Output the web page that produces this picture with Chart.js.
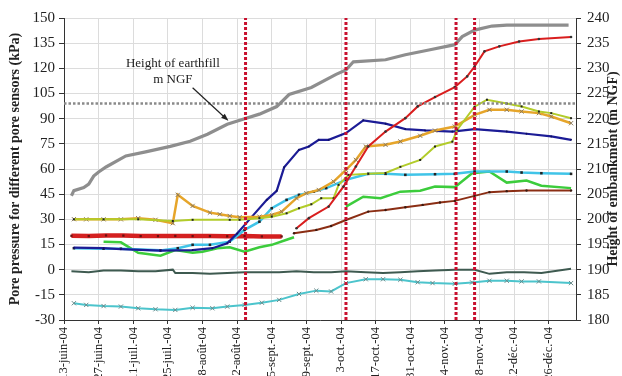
<!DOCTYPE html>
<html lang="fr">
<head>
<meta charset="utf-8">
<title>Pressions interstitielles</title>
<script src="https://cdn.jsdelivr.net/npm/chart.js@4.4.1/dist/chart.umd.min.js"></script>
<style>
    html, body { margin: 0; padding: 0; background: #fff; }
    #cadre { width: 622px; height: 376px; position: relative; }
</style>
</head>
<body>
<div id="cadre"><canvas id="graphe"></canvas></div>
<script>
// jours comptés depuis le 13-juin-04
const tickJours = [0, 14, 28, 42, 56, 70, 84, 98, 112, 126, 140, 154, 168, 182, 196]
const tickLabels = ['13-juin-04', '27-juin-04', '11-juil.-04', '25-juil.-04', '8-août-04', '22-août-04',
    '5-sept.-04', '19-sept.-04', '3-oct.-04', '17-oct.-04', '31-oct.-04', '14-nov.-04',
    '28-nov.-04', '12-déc.-04', '26-déc.-04']

// hauteur du remblai (m NGF, axe de droite)
const remblaiJours = [3, 4, 8, 10, 12, 14, 17, 25, 33, 43, 51, 58, 66, 73, 79, 86, 91, 100, 110, 114, 117, 130, 138, 148, 158, 161, 166, 173, 179, 204]
const remblaiNGF = [204.7, 205.7, 206.3, 207.0, 208.6, 209.4, 210.4, 212.6, 213.4, 214.5, 215.5, 216.9, 218.9, 220.0, 220.9, 222.4, 224.8, 226.2, 228.8, 229.7, 231.3, 231.7, 232.7, 233.7, 234.7, 236.3, 237.6, 238.4, 238.6, 238.6]

// capteurs de pression (kPa)
const bleuJours = [4, 16, 23, 39, 52, 60, 66, 70, 76, 82, 86, 89, 95, 99, 103, 107, 114, 121, 130, 138, 146, 157, 166, 179, 187, 197, 205]
const bleuKpa = [13.1, 12.8, 12.2, 11.3, 11.7, 12.8, 15.7, 21.5, 31.6, 41.6, 47, 61, 71.4, 73.4, 77.4, 77.4, 81.4, 89, 87, 83.8, 83, 82.3, 83.8, 82.3, 81, 79.4, 77.4]

const cyanJours = [4, 16, 23, 39, 46, 52, 59, 67, 73, 79, 84, 90, 95, 101, 106, 114, 123, 130, 138, 150, 158, 166, 179, 185, 193, 205]
const cyanKpa = [12.8, 12.5, 12.5, 11.5, 12.8, 14.8, 14.8, 16.7, 23.7, 28.6, 36.6, 41.6, 44.6, 46.5, 48.6, 53.5, 57.1, 57.1, 56.5, 56.9, 57.1, 58.5, 58.5, 57.9, 57.5, 57.1]

const rougeJours = [3, 10, 17, 24, 31, 38, 45, 52, 59, 66, 73, 80, 88]
const rougeKpa = [20.2, 20, 20.4, 20.3, 20, 20, 20.1, 20, 20, 19.9, 20, 19.8, 19.8]

const rouge2Jours = [94, 99, 107, 113, 118, 123, 130, 138, 143, 150, 158, 163, 166, 170, 176, 184, 192, 205]
const rouge2Kpa = [24.7, 30.7, 37.6, 49.5, 61.5, 73.4, 82.3, 90.3, 97.3, 102.9, 108.8, 115.2, 121.1, 130.1, 133.1, 136.0, 137.5, 138.7]

const brunJours = [93, 102, 108, 114, 123, 130, 138, 145, 152, 158, 166, 172, 179, 187, 205]
const brunKpa = [21.7, 23.7, 26, 29.6, 34.6, 35.6, 37.2, 38.6, 40.0, 41.0, 44.0, 46.2, 46.8, 47.2, 47.2]

const vertJours = [16, 23, 30, 39, 45, 52, 56, 62, 67, 73, 79, 84, 90, 93, 100, 114, 121, 128, 136, 144, 150, 158, 165, 172, 179, 187, 193, 205]
const vertKpa = [16.7, 16.3, 10.1, 8.3, 11.7, 10.1, 10.7, 12.8, 13.4, 10.7, 13.4, 14.8, 17.8, 19.3, null, 37.6, 43.5, 42.6, 46.5, 47.1, 49.5, 49.2, 57.5, 58.5, 51.9, 53.1, 50, 48.6]

const orangeJours = [4, 9, 16, 23, 30, 37, 44, 46, 52, 59, 63, 67, 71, 79, 84, 88, 94, 98, 103, 109, 114, 118, 122, 130, 136, 144, 150, 158, 166, 172, 179, 185, 192, 197, 205]
const orangeKpa = [30.1, 30, 30, 30, 30.7, 29.7, 27.7, 44.6, 38, 34, 33, 32, 31.3, 31.6, 32.6, 34.6, 42.6, 45.6, 47.5, 52.5, 59.5, 65.4, 73.4, 74.4, 76.4, 79.8, 82.9, 85.3, 92.3, 95.3, 95.3, 94.3, 93.3, 91.3, 87.3]

const oliveJours = [4, 16, 30, 44, 52, 67, 71, 79, 84, 90, 95, 100, 104, 109, 111, 115, 123, 130, 136, 144, 150, 157, 159, 166, 171, 179, 185, 192, 197, 205]
const oliveKpa = [30, 30, 30, 29, 29.7, 29.7, 29.7, 30.7, 31.6, 33.6, 36.6, 39, 42.6, 42.6, 50.5, 56.5, 57.1, 57.6, 61.3, 65.4, 73.4, 76.3, 83.4, 97.1, 101.3, 99, 97.3, 94.3, 93.3, 90.3]

const sombreJours = [3, 10, 16, 23, 30, 37, 44, 45, 52, 59, 66, 73, 80, 87, 94, 101, 108, 114, 122, 129, 136, 143, 150, 158, 166, 172, 179, 186, 193, 205]
const sombreKpa = [-1, -1.5, -0.5, -0.5, -1, -1, 0, -2, -2, -2.5, -2, -1.5, -1.5, -1.5, -1, -1.5, -1.5, -1, -1.5, -2, -1.5, -1, -0.5, 0, 0, -2.5, -1.5, -1.5, -2, 0.5]

const cyanXJours = [4, 9, 16, 23, 30, 37, 45, 52, 60, 66, 73, 80, 87, 95, 102, 108, 114, 122, 129, 136, 143, 149, 158, 165, 172, 179, 185, 192, 205]
const cyanXKpa = [-20, -21, -21.7, -22, -23, -23.6, -24, -22.7, -23, -22, -21, -19.7, -18, -14.5, -12.5, -13, -8, -5.7, -5.7, -6, -7.5, -8, -8.4, -7.6, -6.6, -6.6, -7, -7, -8]

// phases de chantier (traits rouges) et niveau de référence (m NGF)
const phasesJours = [73.4, 114, 158.5, 166]
const niveauNGF = 223

// légende fléchée
const noteLignes = ['Height of earthfill', 'm NGF']
const noteJour = 44
const noteKpa = [123, 113]
const flecheDe = [52, 108.4]
const flecheA = [66.5, 88.7]

const FONTE = '"Liberation Serif", "Times New Roman", serif'
const JOUR_MAX = 207

function pts(jours, valeurs) {
    return jours.map((j, i) => ({ x: j, y: valeurs[i] }))
}

function serie(label, jours, valeurs, couleur, largeur, extra) {
    return Object.assign({
        label: label,
        data: pts(jours, valeurs),
        borderColor: couleur,
        backgroundColor: couleur,
        borderWidth: largeur,
        pointRadius: 0,
        tension: 0,
        spanGaps: false,
        yAxisID: 'y'
    }, extra || {})
}

const datasets = []

phasesJours.forEach(j => {
    datasets.push({
        label: 'phase',
        data: [{ x: j, y: -30 }, { x: j, y: 150 }],
        borderColor: '#c8102e',
        borderWidth: 3,
        borderDash: [3, 2],
        pointRadius: 0,
        yAxisID: 'y'
    })
})

datasets.push(
    serie('Niveau', [0, JOUR_MAX], [niveauNGF, niveauNGF], '#8a8a8a', 2.5, { borderDash: [2.5, 2], yAxisID: 'y1' }),
    serie('Remblai', remblaiJours, remblaiNGF, '#8e8e8e', 3.2, { yAxisID: 'y1' }),
    serie('Rouge', rouge2Jours, rouge2Kpa, '#d91e1e', 2, { pointRadius: 1.3, pointBackgroundColor: '#333', pointBorderWidth: 0 }),
    serie('Olive', oliveJours, oliveKpa, '#b2cc2a', 2, { pointRadius: 1.4, pointStyle: 'rect', pointBackgroundColor: '#222', pointBorderWidth: 0 }),
    serie('Orange', orangeJours, orangeKpa, '#e6a52a', 2.5, { pointRadius: 3, pointStyle: 'crossRot', pointBorderColor: '#8a7a60', pointBorderWidth: 1 }),
    serie('Bleu', bleuJours, bleuKpa, '#1c1c96', 2.2, { pointRadius: 1, pointBackgroundColor: '#101060', pointBorderWidth: 0 }),
    serie('Cyan', cyanJours, cyanKpa, '#40c4e8', 2.5, { pointRadius: 1.8, pointStyle: 'rect', pointBackgroundColor: '#222', pointBorderWidth: 0 }),
    serie('Vert', vertJours, vertKpa, '#3ccc3c', 2.5),
    serie('Brun', brunJours, brunKpa, '#8b2e14', 2, { pointRadius: 1.2, pointBackgroundColor: '#3a1a10', pointBorderWidth: 0 }),
    serie('Rouge plat', rougeJours, rougeKpa, '#d42020', 4.5, { pointRadius: 1.6, pointStyle: 'rect', pointBackgroundColor: '#6a1010', pointBorderWidth: 0 }),
    serie('Sombre', sombreJours, sombreKpa, '#3e5a50', 2),
    serie('Cyan x', cyanXJours, cyanXKpa, '#4cc4cc', 2, { pointRadius: 3, pointStyle: 'crossRot', pointBorderColor: '#6a8a8a', pointBorderWidth: 1 })
)

// titre de droite et légende fléchée
const notes = {
    id: 'notes',
    afterDatasetsDraw(chart) {
        const { ctx, chartArea } = chart
        const x = chart.scales.x
        const y = chart.scales.y
        ctx.save()
        ctx.fillStyle = '#222'
        ctx.textAlign = 'center'
        ctx.textBaseline = 'middle'
        ctx.font = '13px ' + FONTE
        noteLignes.forEach((t, i) => {
            ctx.fillText(t, x.getPixelForValue(noteJour), y.getPixelForValue(noteKpa[i]))
        })

        const x0 = x.getPixelForValue(flecheDe[0]), y0 = y.getPixelForValue(flecheDe[1])
        const x1 = x.getPixelForValue(flecheA[0]), y1 = y.getPixelForValue(flecheA[1])
        const ang = Math.atan2(y1 - y0, x1 - x0)
        ctx.strokeStyle = '#222'
        ctx.lineWidth = 1.2
        ctx.beginPath()
        ctx.moveTo(x0, y0)
        ctx.lineTo(x1 - 5 * Math.cos(ang), y1 - 5 * Math.sin(ang))
        ctx.stroke()
        ctx.beginPath()
        ctx.moveTo(x1, y1)
        ctx.lineTo(x1 - 8 * Math.cos(ang - 0.35), y1 - 8 * Math.sin(ang - 0.35))
        ctx.lineTo(x1 - 8 * Math.cos(ang + 0.35), y1 - 8 * Math.sin(ang + 0.35))
        ctx.closePath()
        ctx.fill()

        ctx.translate(chart.width - 9, (chartArea.top + chartArea.bottom) / 2)
        ctx.rotate(-Math.PI / 2)
        ctx.font = 'bold 14px ' + FONTE
        ctx.fillText('Height of embankment (m NGF)', 0, 0)
        ctx.restore()
    }
}

new Chart(document.getElementById('graphe'), {
    type: 'line',
    data: { datasets: datasets },
    plugins: [notes],
    options: {
        responsive: true,
        maintainAspectRatio: false,
        animation: false,
        layout: { padding: { top: 18, right: 0, bottom: 0, left: 0 } },
        plugins: { legend: { display: false }, tooltip: { enabled: false } },
        scales: {
            x: {
                type: 'linear',
                min: 0,
                max: JOUR_MAX,
                afterBuildTicks: s => { s.ticks = tickJours.map(v => ({ value: v })) },
                afterFit: s => { s.height = 56 },
                ticks: {
                    autoSkip: false,
                    minRotation: 90,
                    maxRotation: 90,
                    padding: 3,
                    color: '#222',
                    font: { family: FONTE, size: 12.5 },
                    callback: (v, i) => tickLabels[i]
                },
                grid: { color: '#dcdcdc', tickColor: '#333', tickLength: 4 },
                border: { color: '#333', width: 1 }
            },
            y: {
                position: 'left',
                min: -30,
                max: 150,
                afterFit: s => { s.width = 64 },
                ticks: { stepSize: 15, padding: 4, color: '#222', font: { family: FONTE, size: 15 } },
                grid: { color: '#dcdcdc', tickColor: '#333', tickLength: 5 },
                border: { color: '#333', width: 1 },
                title: {
                    display: true,
                    text: 'Pore pressure for different pore sensors (kPa)',
                    color: '#222',
                    padding: { top: 7, bottom: 0 },
                    font: { family: FONTE, size: 14, weight: 'bold' }
                }
            },
            y1: {
                position: 'right',
                min: 180,
                max: 240,
                afterFit: s => { s.width = 46 },
                ticks: { stepSize: 5, padding: 6, color: '#222', font: { family: FONTE, size: 15 } },
                grid: { drawOnChartArea: false, tickColor: '#333', tickLength: 5 },
                border: { color: '#333', width: 1 }
            }
        }
    }
})
</script>
</body>
</html>
